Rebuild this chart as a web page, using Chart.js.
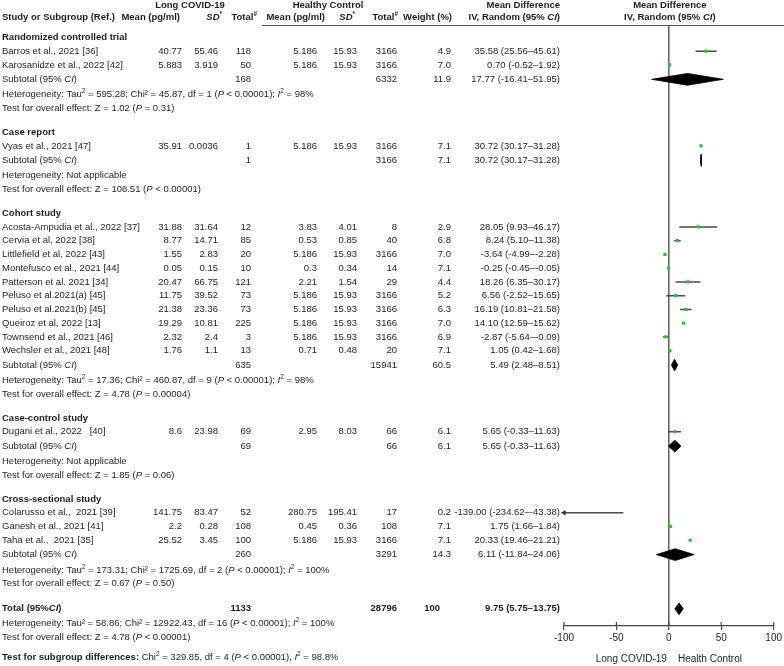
<!DOCTYPE html>
<html>
<head>
<meta charset="utf-8">
<title>Forest plot</title>
<script src="https://cdn.jsdelivr.net/npm/chart.js@4.4.0/dist/chart.umd.min.js"></script>
<style>
  html, body { margin: 0; padding: 0; background: #fff; }
  #wrap { width: 784px; height: 666px; }
</style>
</head>
<body>
<div id="wrap"><canvas id="forest" width="784" height="666"></canvas></div>
<script>
// ---- data ----
const groupNames = ['Randomized controlled trial', 'Case report', 'Cohort study', 'Case-control study', 'Cross-sectional study'];

const studyNames = [
    'Barros et al., 2021 [36]', 'Karosanidze et al., 2022 [42]',
    'Vyas et al., 2021 [47]',
    'Acosta-Ampudia et al., 2022 [37]', 'Cervia et al, 2022 [38]', 'Littlefield et al, 2022 [43]',
    'Montefusco et al., 2021 [44]', 'Patterson et al. 2021 [34]', 'Peluso et al.2021(a) [45]',
    'Peluso et al.2021(b) [45]', 'Queiroz et al, 2022 [13]', 'Townsend et al., 2021 [46]',
    'Wechsler et al., 2021 [48]',
    'Dugani et al., 2022   [40]',
    'Colarusso et al.,  2021 [39]', 'Ganesh et al., 2021 [41]', 'Taha et al.,  2021 [35]'
];
const studyGroup = [0, 0, 1, 2, 2, 2, 2, 2, 2, 2, 2, 2, 2, 3, 4, 4, 4];

const lcMean = [40.77, 5.883, 35.91, 31.88, 8.77, 1.55, 0.05, 20.47, 11.75, 21.38, 19.29, 2.32, 1.76, 8.6, 141.75, 2.2, 25.52];
const lcSd = [55.46, 3.919, 0.0036, 31.64, 14.71, 2.83, 0.15, 66.75, 39.52, 23.36, 10.81, 2.4, 1.1, 23.98, 83.47, 0.28, 3.45];
const lcN = [118, 50, 1, 12, 85, 20, 10, 121, 73, 73, 225, 3, 13, 69, 52, 108, 100];
const hcMean = [5.186, 5.186, 5.186, 3.83, 0.53, 5.186, 0.3, 2.21, 5.186, 5.186, 5.186, 5.186, 0.71, 2.95, 280.75, 0.45, 5.186];
const hcSd = [15.93, 15.93, 15.93, 4.01, 0.85, 15.93, 0.34, 1.54, 15.93, 15.93, 15.93, 15.93, 0.48, 8.03, 195.41, 0.36, 15.93];
const hcN = [3166, 3166, 3166, 8, 40, 3166, 14, 29, 3166, 3166, 3166, 3166, 20, 66, 17, 108, 3166];
const weight = [4.9, 7.0, 7.1, 2.9, 6.8, 7.0, 7.1, 4.4, 5.2, 6.3, 7.0, 6.9, 7.1, 6.1, 0.2, 7.1, 7.1];
const md = [35.58, 0.70, 30.72, 28.05, 8.24, -3.64, -0.25, 18.26, 6.56, 16.19, 14.10, -2.87, 1.05, 5.65, -139.00, 1.75, 20.33];
const ciLow = [25.56, -0.52, 30.17, 9.93, 5.10, -4.99, -0.45, 6.35, -2.52, 10.81, 12.59, -5.64, 0.42, -0.33, -234.62, 1.66, 19.46];
const ciHigh = [45.61, 1.92, 31.28, 46.17, 11.38, -2.28, -0.05, 30.17, 15.65, 21.58, 15.62, -0.09, 1.68, 11.63, -43.38, 1.84, 21.21];

const subLcN = [168, 1, 635, 69, 260];
const subHcN = [6332, 3166, 15941, 66, 3291];
const subWeight = [11.9, 7.1, 60.5, 6.1, 14.3];
const subMd = [17.77, 30.72, 5.49, 5.65, 6.11];
const subLow = [-16.41, 30.17, 2.48, -0.33, -11.84];
const subHigh = [51.95, 31.28, 8.51, 11.63, 24.06];
const subHet = [
    'Tau^2^ = 595.28; Chi² = 45.87, df = 1 (*P* < 0.00001); *I*^2^ = 98%',
    'Not applicable',
    'Tau^2^ = 17.36; Chi² = 460.87, df = 9 (*P* < 0.00001); *I*^2^ = 98%',
    'Not applicable',
    'Tau^2^ = 173.31; Chi² = 1725.69, df = 2 (*P* < 0.00001); *I*^2^ = 100%'
];
const subTest = ['Z = 1.02 (*P* = 0.31)', 'Z = 108.51 (*P* < 0.00001)', 'Z = 4.78 (*P* = 0.00004)', 'Z = 1.85 (*P* = 0.06)', 'Z = 0.67 (*P* = 0.50)'];

const totalLcN = 1133;
const totalHcN = 28796;
const totalWeight = 100;
const totalMd = 9.75, totalLow = 5.75, totalHigh = 13.75;
const totalHet = 'Tau² = 58.86; Chi² = 12922.43, df = 16 (*P* < 0.00001); *I*^2^ = 100%';
const totalTest = 'Z = 4.78 (*P* < 0.00001)';
const subgroupTest = 'Chi^2^ = 329.85, df = 4 (*P* < 0.00001), *I*^2^ = 98.8%';

const xTicks = [-100, -50, 0, 50, 100];

// ---- layout of rows (in row units) ----
const X_MIN = -100, X_MAX = 100;
const Y_MAX = 43.7;
const FONT = '"Liberation Sans", Arial, Helvetica, sans-serif';
const INK = '#1c1c1c';
const FS = 9.5;

const rows = [];
const studyY = [];
const subY = [];
let cy = 0.9;
groupNames.forEach((name, g) => {
    rows.push({ kind: 'group', g, y: cy });
    studyNames.forEach((s, i) => {
        if (studyGroup[i] !== g) return;
        cy += 1;
        studyY[i] = cy;
        rows.push({ kind: 'study', i, y: cy });
    });
    cy += 1.05; subY[g] = cy; rows.push({ kind: 'subtotal', g, y: cy });
    cy += 1.12; rows.push({ kind: 'het', g, y: cy });
    cy += 1.0; rows.push({ kind: 'test', g, y: cy });
    cy += 1.72;
});
cy += 0.1;
const totalY = cy;
rows.push({ kind: 'total', y: cy });
cy += 1.05; rows.push({ kind: 'totalHet', y: cy });
cy += 1.0; rows.push({ kind: 'totalTest', y: cy });
cy += 1.45; rows.push({ kind: 'subgroup', y: cy });

const fmtCi = (m, lo, hi) => `${m.toFixed(2)} (${lo.toFixed(2)}–${hi.toFixed(2)})`;

// ---- rich text helper: *italic*  ^sup^  ~bold~ ----
function parseRich(str) {
    return str.split(/(\*[^*]+\*|\^[^^]+\^|~[^~]+~)/).filter(p => p.length).map(p => {
        if (p.length > 2 && p[0] === '*' && p.endsWith('*')) return { t: p.slice(1, -1), it: true };
        if (p.length > 2 && p[0] === '^' && p.endsWith('^')) return { t: p.slice(1, -1), sup: true };
        if (p.length > 2 && p[0] === '~' && p.endsWith('~')) return { t: p.slice(1, -1), b: true };
        return { t: p };
    });
}

function drawRich(ctx, str, x, y, align = 'left', bold = false) {
    const segs = parseRich(str);
    const fontOf = s => `${s.it ? 'italic ' : ''}${(bold || s.b) ? 'bold ' : ''}${s.sup ? FS * 0.68 : FS}px ${FONT}`;
    let total = 0;
    segs.forEach(s => { ctx.font = fontOf(s); s.w = ctx.measureText(s.t).width; total += s.w; });
    let cx = align === 'right' ? x - total : align === 'center' ? x - total / 2 : x;
    ctx.textAlign = 'left';
    ctx.textBaseline = 'middle';
    segs.forEach(s => {
        ctx.font = fontOf(s);
        ctx.fillText(s.t, cx, s.sup ? y - 3.2 : y);
        cx += s.w;
    });
}

const COL = { name: 2, lcMean: 182, lcSd: 218, lcN: 251, hcMean: 317, hcSd: 357, hcN: 397, weight: 451, md: 560 };

const textPlugin = {
    id: 'forestText',
    afterDraw(chart) {
        const { ctx, chartArea, scales: { x, y } } = chart;
        ctx.save();
        ctx.fillStyle = INK;

        // header rule
        ctx.strokeStyle = '#555';
        ctx.lineWidth = 1;
        ctx.beginPath();
        ctx.moveTo(262, Math.round(chartArea.top) + 0.5);
        ctx.lineTo(chart.width, Math.round(chartArea.top) + 0.5);
        ctx.stroke();

        // upper half of the axis ticks
        ctx.strokeStyle = '#444';
        ctx.lineWidth = 1.2;
        xTicks.forEach(v => {
            const px = x.getPixelForValue(v);
            ctx.beginPath();
            ctx.moveTo(px, chartArea.bottom);
            ctx.lineTo(px, chartArea.bottom - 4);
            ctx.stroke();
        });

        // column headers
        const h1 = chartArea.top - 19.5, h2 = chartArea.top - 7.5;
        const zeroPx = x.getPixelForValue(0) + 1;
        drawRich(ctx, 'Long COVID-19', 190, h1, 'center', true);
        drawRich(ctx, 'Healthy Control', 328, h1, 'center', true);
        drawRich(ctx, 'Mean Difference', COL.md, h1, 'right', true);
        drawRich(ctx, 'Mean Difference', zeroPx, h1, 'center', true);
        drawRich(ctx, 'Study or Subgroup (Ref.)', COL.name, h2, 'left', true);
        drawRich(ctx, 'Mean (pg/ml)', 180, h2, 'right', true);
        drawRich(ctx, '*SD*^*^', 222, h2, 'right', true);
        drawRich(ctx, 'Total^#^', 257, h2, 'right', true);
        drawRich(ctx, 'Mean (pg/ml)', 325, h2, 'right', true);
        drawRich(ctx, '*SD*^*^', 355, h2, 'right', true);
        drawRich(ctx, 'Total^#^', 398, h2, 'right', true);
        drawRich(ctx, 'Weight (%)', 452, h2, 'right', true);
        drawRich(ctx, 'IV, Random (95% *CI*)', COL.md, h2, 'right', true);
        drawRich(ctx, 'IV, Random (95% *CI*)', zeroPx, h2, 'center', true);

        rows.forEach(r => {
            const py = y.getPixelForValue(r.y);
            if (r.kind === 'group') {
                drawRich(ctx, groupNames[r.g], COL.name, py, 'left', true);
            } else if (r.kind === 'study') {
                const i = r.i;
                drawRich(ctx, studyNames[i], COL.name, py);
                drawRich(ctx, String(lcMean[i]), COL.lcMean, py, 'right');
                drawRich(ctx, String(lcSd[i]), COL.lcSd, py, 'right');
                drawRich(ctx, String(lcN[i]), COL.lcN, py, 'right');
                drawRich(ctx, String(hcMean[i]), COL.hcMean, py, 'right');
                drawRich(ctx, String(hcSd[i]), COL.hcSd, py, 'right');
                drawRich(ctx, String(hcN[i]), COL.hcN, py, 'right');
                drawRich(ctx, weight[i].toFixed(1), COL.weight, py, 'right');
                drawRich(ctx, fmtCi(md[i], ciLow[i], ciHigh[i]), COL.md, py, 'right');
            } else if (r.kind === 'subtotal') {
                const g = r.g;
                drawRich(ctx, 'Subtotal (95% *CI*)', COL.name, py);
                drawRich(ctx, String(subLcN[g]), COL.lcN, py, 'right');
                drawRich(ctx, String(subHcN[g]), COL.hcN, py, 'right');
                drawRich(ctx, subWeight[g].toFixed(1), COL.weight, py, 'right');
                drawRich(ctx, fmtCi(subMd[g], subLow[g], subHigh[g]), COL.md, py, 'right');
            } else if (r.kind === 'het') {
                drawRich(ctx, 'Heterogeneity: ' + subHet[r.g], COL.name, py);
            } else if (r.kind === 'test') {
                drawRich(ctx, 'Test for overall effect: ' + subTest[r.g], COL.name, py);
            } else if (r.kind === 'total') {
                drawRich(ctx, 'Total (95%*CI*)', COL.name, py, 'left', true);
                drawRich(ctx, String(totalLcN), COL.lcN, py, 'right', true);
                drawRich(ctx, String(totalHcN), COL.hcN, py, 'right', true);
                drawRich(ctx, String(totalWeight), 440, py, 'right', true);
                drawRich(ctx, fmtCi(totalMd, totalLow, totalHigh), COL.md, py, 'right', true);
            } else if (r.kind === 'totalHet') {
                drawRich(ctx, 'Heterogeneity: ' + totalHet, COL.name, py);
            } else if (r.kind === 'totalTest') {
                drawRich(ctx, 'Test for overall effect: ' + totalTest, COL.name, py);
            } else if (r.kind === 'subgroup') {
                drawRich(ctx, '~Test for subgroup differences:~ ' + subgroupTest, COL.name, py);
            }
        });
        ctx.restore();
    }
};

// ---- datasets ----
const DIAMOND_H = 0.43;
const diamond = (m, lo, hi, yy) => ({
    data: [{ x: lo, y: yy }, { x: m, y: yy - DIAMOND_H }, { x: hi, y: yy }, { x: m, y: yy + DIAMOND_H }, { x: lo, y: yy }],
    borderColor: '#000', backgroundColor: '#000', borderWidth: 0.8,
    fill: 'shape', pointRadius: 0, tension: 0, order: 1
});

const datasets = [];
datasets.push({
    data: [{ x: 0, y: 0 }, { x: 0, y: Y_MAX }],
    borderColor: '#5c5c5c', borderWidth: 1.5, pointRadius: 0, order: 5
});
studyNames.forEach((s, i) => {
    datasets.push({
        data: [{ x: ciLow[i], y: studyY[i] }, { x: ciHigh[i], y: studyY[i] }],
        borderColor: '#4a4a4a', borderWidth: 1.5, pointRadius: 0, order: 3
    });
    if (ciLow[i] < X_MIN) {
        datasets.push({
            data: [{ x: X_MIN, y: studyY[i] }],
            showLine: false, pointStyle: 'triangle', rotation: -90, pointRadius: 3.2,
            pointBackgroundColor: '#333', pointBorderWidth: 0, clip: false, order: 2
        });
    }
});
datasets.push({
    data: studyNames.map((s, i) => ({ x: md[i], y: studyY[i] })),
    showLine: false, pointStyle: 'rect', pointRadius: 2.2,
    pointBackgroundColor: '#27c727', pointBorderWidth: 0, order: 0
});
groupNames.forEach((g, gi) => datasets.push(diamond(subMd[gi], subLow[gi], subHigh[gi], subY[gi])));
datasets.push(diamond(totalMd, totalLow, totalHigh, totalY));

new Chart(document.getElementById('forest'), {
    type: 'line',
    data: { datasets },
    options: {
        responsive: false,
        animation: false,
        events: [],
        layout: { padding: { left: 564, right: 7, top: 25, bottom: 0 } },
        plugins: { legend: { display: false }, tooltip: { enabled: false } },
        scales: {
            x: {
                type: 'linear', min: X_MIN, max: X_MAX,
                afterBuildTicks: s => { s.ticks = xTicks.map(v => ({ value: v })); },
                ticks: { color: INK, font: { family: FONT, size: 10 }, padding: 2, maxRotation: 0 },
                grid: { drawOnChartArea: false, drawTicks: true, tickLength: 4, color: '#444', lineWidth: 1.2 },
                border: { display: true, color: '#444', width: 1.2 },
                title: { display: true, text: 'Long COVID-19    Health Control', color: INK, font: { family: FONT, size: 10 }, padding: { top: 0, bottom: 1 } },
                afterFit: s => { s.height = 40; }
            },
            y: { type: 'linear', display: false, min: 0, max: Y_MAX, reverse: true }
        }
    },
    plugins: [textPlugin]
});
</script>
</body>
</html>
